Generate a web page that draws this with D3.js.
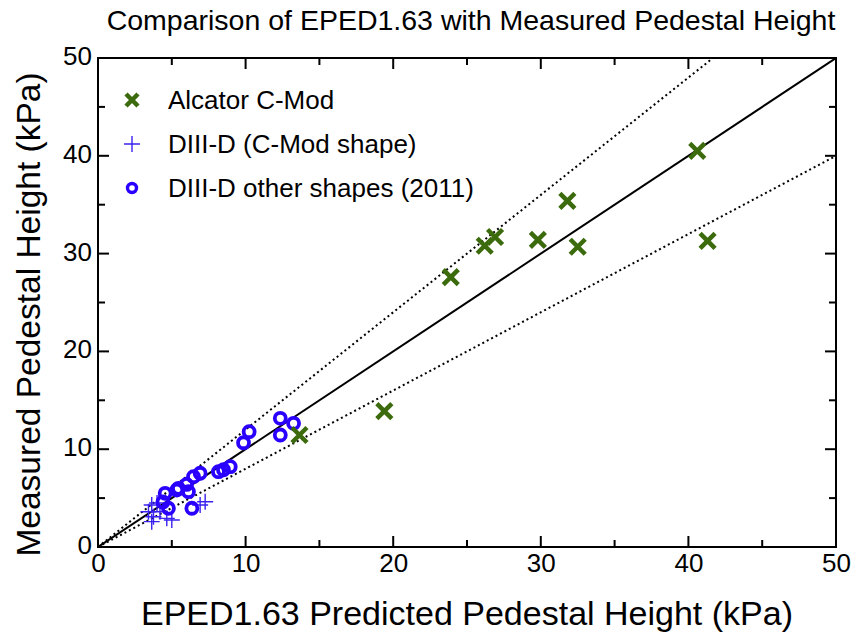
<!DOCTYPE html>
<html><head><meta charset="utf-8">
<script src="https://cdn.jsdelivr.net/npm/d3@7"></script>
<style>body{margin:0;background:#fff;} text{font-family:"Liberation Sans",Arial,Helvetica,sans-serif;}</style>
</head><body>
<svg id="chart" width="853" height="641"></svg>
<script>
// Data (kPa): [EPED1.63 predicted, measured]
const cmodPred = [13.65, 19.4, 23.9, 26.2, 26.9, 29.8, 31.8, 32.5, 40.6, 41.3];
const cmodMeas = [11.45, 13.9, 27.6, 30.8, 31.7, 31.4, 35.4, 30.7, 40.5, 31.3];
const d3dCmodPred = [3.64, 3.42, 3.76, 3.64, 4.66, 5.0, 7.26, 6.92, 4.2, 4.0];
const d3dCmodMeas = [4.29, 3.61, 3.1, 2.59, 2.93, 2.76, 4.63, 4.29, 3.61, 4.5];
const d3dOtherPred = [4.55, 5.34, 6.13, 6.47, 6.92, 8.16, 8.5, 8.96, 9.86, 10.24, 12.35, 13.25, 12.35, 4.77, 6.36, 4.4, 5.45, 6.0];
const d3dOtherMeas = [5.49, 5.83, 5.66, 7.19, 7.54, 7.7, 7.9, 8.21, 10.66, 11.79, 13.16, 12.65, 11.45, 3.96, 3.96, 4.6, 6.0, 6.4];
const majorTicks = [0, 10, 20, 30, 40, 50];
const minorTicks = [5, 15, 25, 35, 45];
const refSlopes = [1.0, 1.2, 0.8];
const legendLabels = ["Alcator C-Mod", "DIII-D (C-Mod shape)", "DIII-D other shapes (2011)"];
const titleText = "Comparison of EPED1.63 with Measured Pedestal Height";
const xLabel = "EPED1.63 Predicted Pedestal Height (kPa)";
const yLabel = "Measured Pedestal Height (kPa)";

const green = "#3b6b0c", blue = "#2a00ff", blueThin = "#3a22f0";
const svg = d3.select("#chart");
const L = 98, R = 836, T = 58, B = 547;
const x = d3.scaleLinear().domain([0, 50]).range([L, R]);
const y = d3.scaleLinear().domain([0, 50]).range([B, T]);

svg.append("defs").append("clipPath").attr("id", "clip")
  .append("rect").attr("x", L).attr("y", T).attr("width", R - L).attr("height", B - T);

const plot = svg.append("g").attr("clip-path", "url(#clip)");

// reference lines
refSlopes.forEach((s, i) => {
  const xe = Math.min(50, 50 / s);
  plot.append("line")
    .attr("x1", x(0)).attr("y1", y(0)).attr("x2", x(xe)).attr("y2", y(xe * s))
    .attr("stroke", "#000")
    .attr("stroke-width", 2)
    .attr("stroke-dasharray", i === 0 ? null : "2,3");
});

// DIII-D C-Mod shape: thin plus
const plusSize = 8;
plot.append("g").selectAll("path").data(d3dCmodPred.map((v, i) => [v, d3dCmodMeas[i]]))
  .join("path")
  .attr("d", d => `M${x(d[0]) - plusSize},${y(d[1])}H${x(d[0]) + plusSize}M${x(d[0])},${y(d[1]) - plusSize}V${y(d[1]) + plusSize}`)
  .attr("stroke", blueThin).attr("stroke-width", 1.4).attr("fill", "none");

// DIII-D other shapes: rings
plot.append("g").selectAll("circle").data(d3dOtherPred.map((v, i) => [v, d3dOtherMeas[i]]))
  .join("circle")
  .attr("cx", d => x(d[0])).attr("cy", d => y(d[1])).attr("r", 5.5)
  .attr("fill", "none").attr("stroke", blue).attr("stroke-width", 3.8);

// C-Mod: thick X
const xs = 7.5;
function xPath(cx, cy) { return `M${cx - xs},${cy - xs}L${cx + xs},${cy + xs}M${cx - xs},${cy + xs}L${cx + xs},${cy - xs}`; }
plot.append("g").selectAll("path").data(cmodPred.map((v, i) => [v, cmodMeas[i]]))
  .join("path")
  .attr("d", d => xPath(x(d[0]), y(d[1])))
  .attr("stroke", green).attr("stroke-width", 4.5).attr("fill", "none");

// frame
svg.append("rect").attr("x", L).attr("y", T).attr("width", R - L).attr("height", B - T)
  .attr("fill", "none").attr("stroke", "#000").attr("stroke-width", 2);

// ticks inside on all four sides
const tickG = svg.append("g").attr("stroke", "#000").attr("stroke-width", 2);
const majL = 11, minL = 7;
[[majorTicks, majL], [minorTicks, minL]].forEach(([arr, len]) => {
  arr.forEach(v => {
    tickG.append("line").attr("x1", x(v)).attr("x2", x(v)).attr("y1", B).attr("y2", B - len);
    tickG.append("line").attr("x1", x(v)).attr("x2", x(v)).attr("y1", T).attr("y2", T + len);
    tickG.append("line").attr("y1", y(v)).attr("y2", y(v)).attr("x1", L).attr("x2", L + len);
    tickG.append("line").attr("y1", y(v)).attr("y2", y(v)).attr("x1", R).attr("x2", R - len);
  });
});

// tick labels via axes (tick lines hidden)
const xAxis = svg.append("g").attr("transform", `translate(0,${B})`)
  .call(d3.axisBottom(x).tickValues(majorTicks).tickSize(0).tickPadding(7).tickFormat(d3.format("d")));
const yAxis = svg.append("g").attr("transform", `translate(${L},0)`)
  .call(d3.axisLeft(y).tickValues(majorTicks).tickSize(0).tickPadding(6).tickFormat(d3.format("d")));
[xAxis, yAxis].forEach(a => {
  a.select(".domain").remove();
  a.selectAll("text").attr("font-size", 26).attr("fill", "#000")
    .attr("font-family", '"Liberation Sans",Arial,sans-serif');
});
xAxis.selectAll("text").attr("dy", "0.71em");
yAxis.selectAll("text").attr("dy", "0.25em");

// title and axis labels
svg.append("text").attr("x", 471).attr("y", 30).attr("text-anchor", "middle")
  .attr("font-size", 28.5).text(titleText);
svg.append("text").attr("x", 467).attr("y", 625).attr("text-anchor", "middle")
  .attr("font-size", 34).text(xLabel);
svg.append("text").attr("transform", `translate(40,${(T + B) / 2 + 12}) rotate(-90)`)
  .attr("text-anchor", "middle").attr("font-size", 33.5).text(yLabel);

// legend
const legY = [100, 144, 188];
const lg = svg.append("g");
lg.append("path").attr("d", `M${132 - 6},${legY[0] - 6}L${132 + 6},${legY[0] + 6}M${132 - 6},${legY[0] + 6}L${132 + 6},${legY[0] - 6}`)
  .attr("stroke", green).attr("stroke-width", 4.5);
lg.append("path").attr("d", `M${132 - 8},${legY[1]}H${132 + 8}M132,${legY[1] - 8}V${legY[1] + 8}`)
  .attr("stroke", blueThin).attr("stroke-width", 1.4);
lg.append("circle").attr("cx", 132).attr("cy", legY[2]).attr("r", 4.5)
  .attr("fill", "none").attr("stroke", blue).attr("stroke-width", 3.4);
legendLabels.forEach((t, i) => {
  lg.append("text").attr("x", 168).attr("y", legY[i]).attr("dy", "0.36em")
    .attr("font-size", 26).text(t);
});
</script>
</body></html>
